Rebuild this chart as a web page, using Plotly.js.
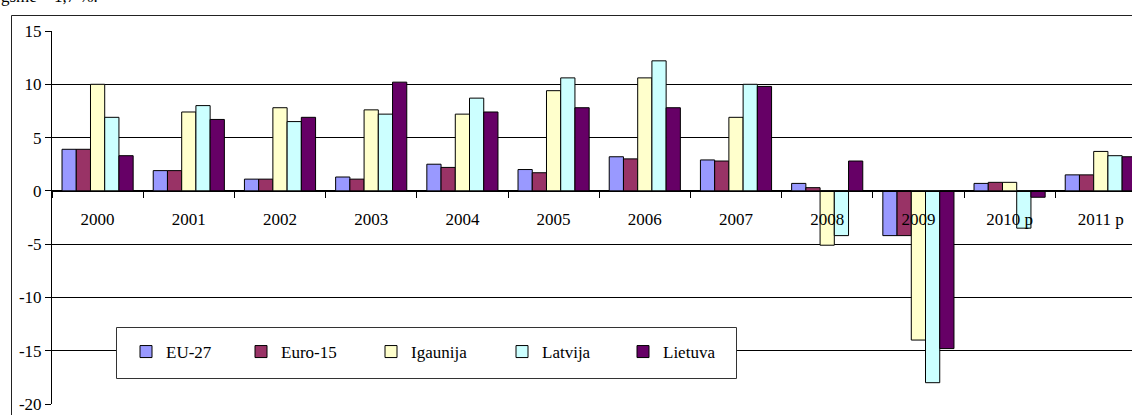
<!DOCTYPE html>
<html>
<head>
<meta charset="utf-8">
<script src="https://cdn.plot.ly/plotly-3.0.1.min.js"></script>
<style>
html,body{margin:0;padding:0;background:#fff;}
#chart{width:1132px;height:415px;}
</style>
</head>
<body>
<div id="chart"></div>
<script>
var categories = ['2000','2001','2002','2003','2004','2005','2006','2007','2008','2009','2010 p','2011 p'];
var seriesNames = ['EU-27','Euro-15','Igaunija','Latvija','Lietuva'];
var eu27     = [3.9, 1.9, 1.1, 1.3, 2.5, 2.0, 3.2, 2.9, 0.7, -4.2, 0.7, 1.5];
var euro15   = [3.9, 1.9, 1.1, 1.1, 2.2, 1.7, 3.0, 2.8, 0.3, -4.2, 0.8, 1.5];
var igaunija = [10.0, 7.4, 7.8, 7.6, 7.2, 9.4, 10.6, 6.9, -5.1, -14.0, 0.8, 3.7];
var latvija  = [6.9, 8.0, 6.5, 7.2, 8.7, 10.6, 12.2, 10.0, -4.2, -18.0, -3.5, 3.3];
var lietuva  = [3.3, 6.7, 6.9, 10.2, 7.4, 7.8, 7.8, 9.8, 2.8, -14.8, -0.6, 3.2];
var yTickVals = [-20, -15, -10, -5, 0, 5, 10, 15];
var yTickText = ['-20', '-15', '-10', '-5', '0', '5', '10', '15'];
var topText = 'gsme – 1,7 %.';

var seriesValues = [eu27, euro15, igaunija, latvija, lietuva];
var colors = ['#9999FF', '#993366', '#FFFFCC', '#CCFFFF', '#660066'];
var legendWidths = [70, 85, 86, 76, 60];

var W = 1132, H = 415;
var mL = 52, mR = 0, mT = 31, mB = 11;
var pw = W - mL - mR, ph = H - mT - mB;
function px2x(p){ return (p - mL) / pw; }
function py2y(p){ return (H - mB - p) / ph; }

var FONT = '"Liberation Serif", "Times New Roman", Times, serif';

var traces = seriesNames.map(function(n, i){
  return {
    type: 'bar',
    name: n,
    x: categories,
    y: seriesValues[i],
    marker: {color: colors[i], line: {color: '#000', width: 1}},
    legendwidth: legendWidths[i],
    hoverinfo: 'x+y+name'
  };
});

var yMin = -20, yMax = 15;
var catW = 91.2;
var xSpan = pw / catW;

var layout = {
  width: W, height: H,
  margin: {l: mL, r: mR, t: mT, b: mB, pad: 0},
  paper_bgcolor: '#fff', plot_bgcolor: '#fff',
  font: {family: FONT, size: 17, color: '#000'},
  barmode: 'group',
  bargap: 0.22,
  bargroupgap: 0,
  xaxis: {
    type: 'category',
    range: [-0.5, -0.5 + xSpan],
    anchor: 'free',
    position: (0 - yMin) / (yMax - yMin),
    showline: true, linecolor: '#000', linewidth: 1,
    showgrid: false, zeroline: false,
    ticks: 'outside', tickson: 'boundaries', ticklen: 6, tickcolor: '#000', tickwidth: 1,
    ticklabelstandoff: 13,
    tickfont: {family: FONT, size: 17, color: '#000'},
    fixedrange: true
  },
  yaxis: {
    range: [yMin, yMax],
    tickvals: yTickVals, ticktext: yTickText,
    showline: true, linecolor: '#000', linewidth: 1,
    showgrid: true, gridcolor: '#000', gridwidth: 1,
    zeroline: true, zerolinecolor: '#000', zerolinewidth: 1,
    ticks: 'outside', ticklen: 6, tickcolor: '#000', tickwidth: 1,
    tickfont: {family: FONT, size: 17, color: '#000'},
    fixedrange: true
  },
  showlegend: true,
  legend: {
    orientation: 'h',
    x: px2x(126), xanchor: 'left',
    y: py2y(352), yanchor: 'middle',
    bgcolor: 'rgba(0,0,0,0)', borderwidth: 0,
    font: {family: FONT, size: 17, color: '#000'},
    traceorder: 'normal'
  },
  shapes: [
    {type: 'rect', xref: 'paper', yref: 'paper', layer: 'above',
     x0: px2x(11.5), x1: px2x(1140), y0: py2y(430), y1: py2y(15.5),
     line: {color: '#222', width: 1}, fillcolor: 'rgba(0,0,0,0)'},
    {type: 'rect', xref: 'paper', yref: 'paper', layer: 'above',
     x0: px2x(116.5), x1: px2x(736.5), y0: py2y(378.5), y1: py2y(327.5),
     line: {color: '#333', width: 1}, fillcolor: '#fff'}
  ],
  annotations: [
    {text: topText, xref: 'paper', yref: 'paper', x: px2x(-1), xanchor: 'left',
     y: py2y(-3), yanchor: 'middle', showarrow: false,
     font: {family: FONT, size: 17, color: '#000'}}
  ]
};

Plotly.newPlot('chart', traces, layout, {displayModeBar: false, staticPlot: true});
</script>
</body>
</html>
